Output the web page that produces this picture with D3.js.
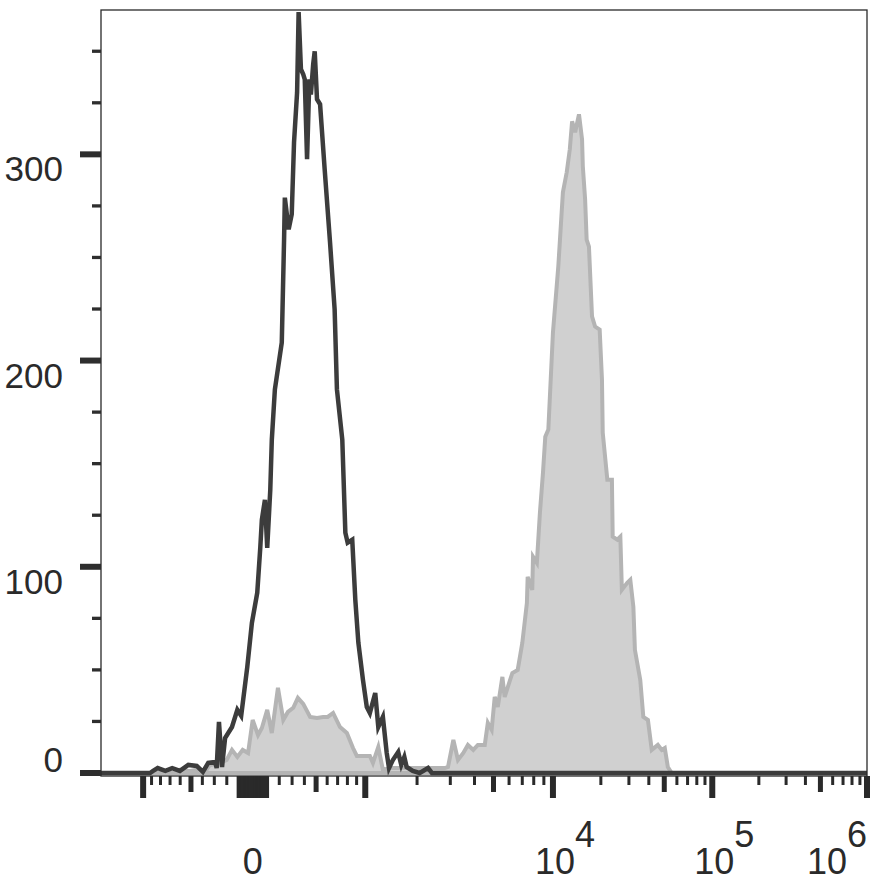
<!DOCTYPE html>
<html>
<head>
<meta charset="utf-8">
<script src="https://cdn.jsdelivr.net/npm/d3@7"></script>
<style>
  html, body { margin: 0; padding: 0; background: #fff; }
  svg { display: block; font-family: "Liberation Sans", Arial, sans-serif; }
</style>
</head>
<body>
<svg id="chart" width="882" height="883"></svg>
<script>
// ---------------- DATA ----------------
// Display channel (0..1000 across the plot) and event counts
const isotypeChannel = [0,64,68,74,84,93,103,114,125,133,140,149,151,154,158,162,171,178,183,191,197,204,208,210,214,217,221,223,227,236,239,240,245,249,252,256,258,261,264,266,269,272,274,277,279,282,286,292,299,305,308,315,319,322,328,332,336,342,347,351,358,362,368,373,376,381,388,392,396,399,407,416,427,432,1000];
const isotypeCount   = [0,0,1,2.4,1,2.4,1,3.9,3.4,0.5,4.9,5.3,2.4,24.8,2.9,17,22.3,30.6,27.7,51.5,72.8,87.4,109.7,122.8,132.5,109.2,137.4,161.7,186,208.7,258.7,279,263.6,270.9,305.8,330,369,341.3,338.8,336.4,297.6,336.4,329,343.7,350,326.7,324.3,292.7,257.3,224.8,186,161.7,116.5,111.7,113.1,84,63.1,45.1,32,29.1,38.8,22.3,27.2,9.7,2.4,6.3,10.2,3.9,7.8,2.9,1,0,2.4,0,0];

const stainedChannel = [0,97,103,116,129,136,142,153,164,171,178,185,192,198,205,210,217,223,231,238,244,251,257,264,273,282,290,296,303,312,321,329,334,351,355,362,368,377,449,453,460,466,473,479,486,492,501,505,510,514,518,524,527,537,544,550,556,557,563,564,569,573,577,580,584,590,597,603,608,612,615,619,624,628,629,632,634,637,641,645,651,654,655,661,667,668,674,678,680,687,691,695,697,704,708,714,719,727,732,736,740,745,1000];
const stainedCount   = [0,0,1.5,1,1.9,0.5,3.9,4.4,6.3,11.2,7.8,11.2,9.7,25.7,18.4,21.8,30.6,19.4,41.3,25.7,29.6,31.6,36.4,33.5,27.2,26.7,27.2,27.2,29.1,22.3,19.4,12.1,8.3,8.3,4.9,12.6,1.5,2.4,2.4,2.9,16,6.3,9.7,13.6,11.2,13.6,13.6,24.3,20.9,36.9,32,46.6,36.9,48.5,50,63.1,82.5,95.1,88.8,104.9,101.9,126.2,145.6,163.1,166.5,213.6,245.6,281.6,291.3,302.4,316,310.7,319.4,307.3,294.2,278.2,258.7,255.3,221.4,216.5,215,190.8,165,142.2,142.2,114.6,113.1,114.6,88.8,92.2,93.7,80.6,59.7,45.1,27.2,25.7,11.2,13.6,11.2,12.1,2.9,0,0];

// Axis tick labels
const yTickValues = [0, 100, 200, 300];
const yMinorStep = 25;
const yMax = 370;
const xLabelExponents = [4, 5, 6];
// Biexponential axis: decade anchors (intensity) and their display channels
const decadeValues   = [-1000, 0, 1000, 1e4, 1e5, 1e6];
const decadeChannels = [55, 198, 345, 590, 798, 1000];
const linearWidth = 800;

// ---------------- CHART ----------------
const svg = d3.select("#chart");
const plot = { left: 101, right: 867, top: 10, bottom: 776 };

const chToPx = d3.scaleLinear().domain([0, 1000]).range([plot.left, plot.right]);
const tr = v => Math.asinh(v / linearWidth);
const valToCh = d3.scaleLinear().domain(decadeValues.map(tr)).range(decadeChannels);
const xVal = v => chToPx(valToCh(tr(v)));
const y = d3.scaleLinear().domain([0, yMax]).range([773, plot.top]);

const stained = stainedChannel.map((c, i) => ({ c, n: stainedCount[i] }));
const isotype = isotypeChannel.map((c, i) => ({ c, n: isotypeCount[i] }));

// stained (filled grey) histogram
svg.append("path")
  .datum(stained)
  .attr("d", d3.area().x(d => chToPx(d.c)).y0(y(0)).y1(d => y(d.n)))
  .attr("fill", "#d0d0d0")
  .attr("stroke", "#b4b4b4")
  .attr("stroke-width", 4)
  .attr("stroke-linejoin", "miter");

// isotype (dark line) histogram
svg.append("path")
  .datum(isotype)
  .attr("d", d3.line().x(d => chToPx(d.c)).y(d => y(d.n)))
  .attr("fill", "none")
  .attr("stroke", "#3c3c3c")
  .attr("stroke-width", 4.5)
  .attr("stroke-linejoin", "miter");

// frame
svg.append("rect")
  .attr("x", plot.left).attr("y", plot.top)
  .attr("width", plot.right - plot.left).attr("height", plot.bottom - plot.top)
  .attr("fill", "none").attr("stroke", "#2a2a2a").attr("stroke-width", 1.3);

// y ticks
const yTicks = d3.range(0, 350 + 1, yMinorStep);
svg.append("g").selectAll("line").data(yTicks).join("line")
  .attr("x1", d => yTickValues.includes(d) ? 80 : 92)
  .attr("x2", plot.left)
  .attr("y1", d => y(d)).attr("y2", d => y(d))
  .attr("stroke", "#2e2e2e")
  .attr("stroke-width", d => yTickValues.includes(d) ? 6 : 3.3);

svg.append("g").selectAll("text").data(yTickValues).join("text")
  .attr("x", 63)
  .attr("y", d => d === 0 ? y(d) - 1 : y(d) + 27)
  .attr("text-anchor", "end")
  .attr("font-size", 35)
  .attr("fill", "#2a2a2a")
  .text(d => d);

// x ticks (biexponential)
const xTicks = [];
for (let k = -1000; k <= 1000; k += 100) xTicks.push(k);
for (let k = -90; k <= 90; k += 10) if (k % 100 !== 0) xTicks.push(k);
[1e3, 1e4, 1e5].forEach(p => { for (let k = 2; k <= 10; k++) xTicks.push(k * p); });
const tickKind = v => {
  const a = Math.abs(v);
  if (a <= 100) return "major";
  const lg = Math.log10(a);
  if (Math.abs(lg - Math.round(lg)) < 1e-9 && a >= 1000) return "major";
  const lead = a / Math.pow(10, Math.floor(lg));
  if (Math.abs(lead - 5) < 1e-9) return "medium";
  return "minor";
};
const tickLen = { major: 22, medium: 16, minor: 9 };
const tickW = { major: 6, medium: 5, minor: 3 };
svg.append("g").selectAll("line").data(xTicks).join("line")
  .attr("x1", d => xVal(d)).attr("x2", d => xVal(d))
  .attr("y1", plot.bottom).attr("y2", d => plot.bottom + tickLen[tickKind(d)])
  .attr("stroke", "#2a2a2a")
  .attr("stroke-width", d => tickW[tickKind(d)]);

// x labels
const xLabelY = 874;
svg.append("text")
  .attr("x", xVal(0)).attr("y", xLabelY)
  .attr("text-anchor", "middle").attr("font-size", 36).attr("fill", "#2a2a2a")
  .text("0");

xLabelExponents.forEach(e => {
  const t = svg.append("text")
    .attr("y", xLabelY).attr("font-size", 36).attr("fill", "#2a2a2a");
  t.append("tspan").text("10");
  t.append("tspan").attr("dy", -27).text(e);
  const base = t.select("tspan").node().getComputedTextLength();
  const total = t.node().getComputedTextLength();
  let x0 = xVal(Math.pow(10, e)) + 2 - base / 2;
  if (x0 + total > plot.right) x0 = plot.right - total;
  t.attr("x", x0);
});
</script>
</body>
</html>
